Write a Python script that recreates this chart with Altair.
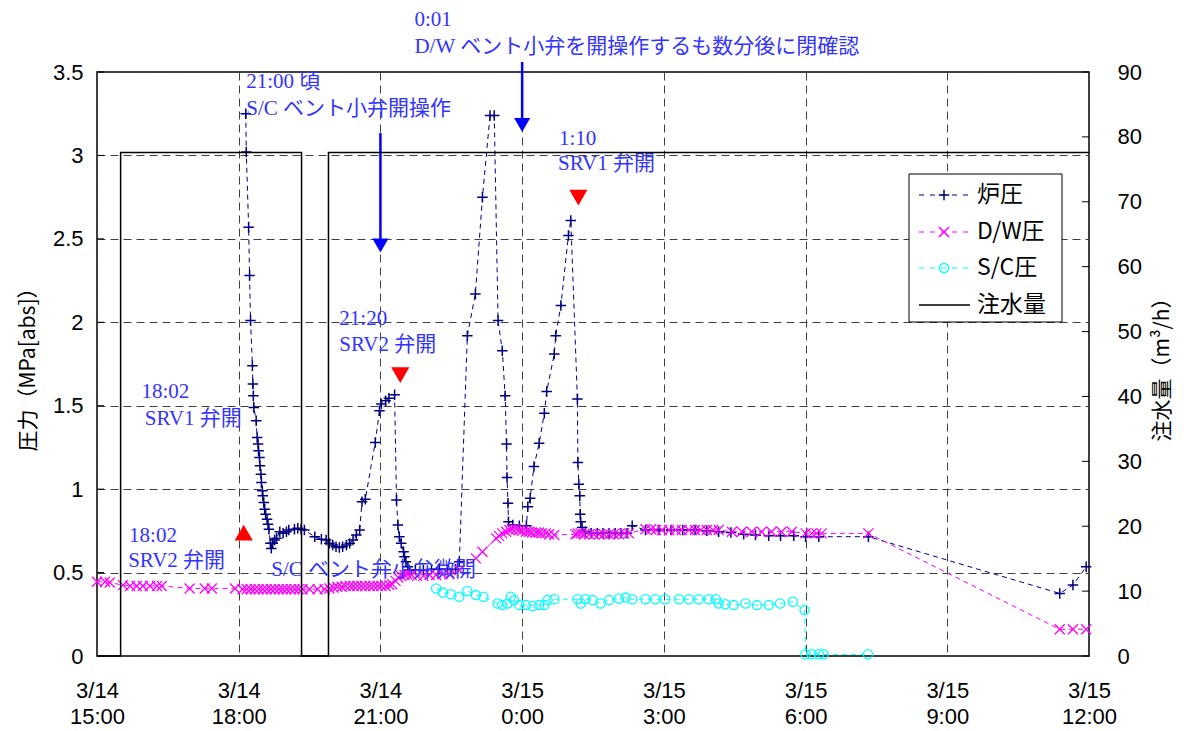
import json
import altair as alt
import pandas as pd

# ---------------- data (x = hours since 3/14 15:00) ----------------
x_tick_values = [0, 3, 6, 9, 12, 15, 18, 21]
x_tick_dates = ["3/14", "3/14", "3/14", "3/15", "3/15", "3/15", "3/15", "3/15"]
x_tick_times = ["15:00", "18:00", "21:00", "0:00", "3:00", "6:00", "9:00", "12:00"]
p_ticks = [0, 0.5, 1, 1.5, 2, 2.5, 3, 3.5]
inj_ticks = [0, 10, 20, 30, 40, 50, 60, 70, 80, 90]

rpv_h = [3.15, 3.16, 3.21, 3.23, 3.25, 3.29, 3.30, 3.31, 3.32, 3.37,
         3.39, 3.41, 3.42, 3.44, 3.45, 3.47, 3.48, 3.50, 3.51, 3.53,
         3.55, 3.57, 3.60, 3.62, 3.64, 3.67, 3.69, 3.72, 3.76, 3.80,
         3.87, 3.94, 4.01, 4.06, 4.18, 4.25, 4.32, 4.39, 4.61, 4.75,
         4.85, 4.92, 4.99, 5.06, 5.13, 5.20, 5.28, 5.35, 5.42, 5.49,
         5.56, 5.61, 5.68, 5.89, 5.98, 6.02, 6.11, 6.18, 6.30, 6.34,
         6.37, 6.40, 6.44, 6.49, 6.51, 6.54, 6.58, 6.61, 6.74, 6.91,
         7.08, 7.25, 7.42, 7.59, 7.67, 7.84, 8.01, 8.16, 8.32, 8.41,
         8.49, 8.58, 8.64, 8.67, 8.68, 8.70, 8.71, 8.80, 8.94, 9.09,
         9.12, 9.17, 9.25, 9.36, 9.47, 9.52, 9.68, 9.71, 9.82, 9.98,
         10.03, 10.17, 10.18, 10.20, 10.22, 10.23, 10.24, 10.27, 10.34, 10.46,
         10.59, 10.71, 10.84, 10.97, 11.09, 11.22, 11.33, 11.61, 11.90, 12.15,
         12.40, 12.66, 12.91, 13.16, 13.42, 13.69, 13.94, 14.22, 14.47, 14.75,
         15.00, 15.28, 16.33, 20.38, 20.66, 20.94]
rpv_p = [3.25, 3.02, 2.57, 2.28, 2.01, 1.74, 1.63, 1.56, 1.49, 1.41,
         1.31, 1.27, 1.23, 1.19, 1.14, 1.09, 1.04, 0.99, 0.96, 0.92,
         0.88, 0.85, 0.82, 0.79, 0.76, 0.675, 0.645, 0.675, 0.695, 0.705,
         0.745, 0.735, 0.745, 0.755, 0.76, 0.765, 0.76, 0.755, 0.715, 0.70,
         0.695, 0.675, 0.665, 0.655, 0.65, 0.655, 0.665, 0.675, 0.695, 0.725,
         0.755, 0.925, 0.94, 1.28, 1.47, 1.51, 1.53, 1.545, 1.565, 0.935,
         0.785, 0.715, 0.675, 0.625, 0.595, 0.565, 0.535, 0.515, 0.515, 0.515,
         0.52, 0.52, 0.52, 0.52, 0.565, 1.92, 2.17, 2.75, 3.24, 3.24,
         2.01, 1.83, 1.56, 1.27, 1.07, 0.915, 0.805, 0.785, 0.78, 0.78,
         0.895, 0.945, 1.135, 1.275, 1.455, 1.585, 1.81, 1.92, 2.10, 2.52,
         2.61, 1.54, 1.16, 1.03, 0.96, 0.85, 0.805, 0.77, 0.745, 0.735,
         0.735, 0.735, 0.735, 0.735, 0.735, 0.735, 0.78, 0.755, 0.755, 0.755,
         0.755, 0.755, 0.75, 0.745, 0.74, 0.73, 0.725, 0.72, 0.72, 0.72,
         0.715, 0.715, 0.715, 0.375, 0.425, 0.535]

dw_h = [0.00, 0.17, 0.27, 0.55, 0.70, 0.84, 0.97, 1.12, 1.27, 1.37,
        1.96, 2.28, 2.43, 2.92, 3.08, 3.17, 3.25, 3.34, 3.42, 3.51,
        3.59, 3.68, 3.76, 3.85, 3.93, 4.01, 4.10, 4.18, 4.27, 4.35,
        4.50, 4.67, 4.82, 4.92, 5.01, 5.09, 5.18, 5.26, 5.35, 5.43,
        5.51, 5.60, 5.68, 5.77, 5.85, 5.94, 6.02, 6.11, 6.19, 6.25,
        6.32, 6.38, 6.44, 6.51, 6.57, 6.66, 6.78, 6.91, 7.04, 7.18,
        7.31, 7.46, 7.67, 8.02, 8.16, 8.45, 8.51, 8.58, 8.66, 8.73,
        8.79, 8.87, 8.94, 9.00, 9.08, 9.15, 9.21, 9.29, 9.36, 9.42,
        9.50, 9.57, 9.68, 10.13, 10.18, 10.24, 10.31, 10.42, 10.52, 10.63,
        10.73, 10.84, 10.94, 11.05, 11.16, 11.26, 11.61, 11.73, 11.83, 11.96,
        12.11, 12.25, 12.38, 12.53, 12.66, 12.78, 12.91, 13.04, 13.16, 13.44,
        13.65, 13.86, 14.07, 14.28, 14.49, 14.71, 15.00, 15.13, 15.23, 15.34,
        16.33, 20.38, 20.66, 20.94]
dw_p = [0.445, 0.445, 0.44, 0.425, 0.42, 0.42, 0.42, 0.42, 0.42, 0.42,
        0.405, 0.405, 0.405, 0.405, 0.40, 0.40, 0.40, 0.40, 0.40, 0.40,
        0.40, 0.40, 0.40, 0.40, 0.40, 0.40, 0.40, 0.40, 0.40, 0.40,
        0.40, 0.40, 0.40, 0.405, 0.41, 0.415, 0.415, 0.42, 0.42, 0.42,
        0.42, 0.42, 0.42, 0.42, 0.42, 0.42, 0.42, 0.42, 0.425, 0.43,
        0.45, 0.47, 0.48, 0.485, 0.49, 0.485, 0.48, 0.48, 0.485, 0.485,
        0.49, 0.49, 0.515, 0.585, 0.625, 0.705, 0.72, 0.735, 0.745, 0.755,
        0.76, 0.76, 0.755, 0.75, 0.745, 0.745, 0.74, 0.74, 0.74, 0.735,
        0.735, 0.73, 0.725, 0.73, 0.735, 0.735, 0.73, 0.73, 0.73, 0.73,
        0.73, 0.73, 0.73, 0.73, 0.735, 0.735, 0.76, 0.76, 0.755, 0.755,
        0.755, 0.755, 0.755, 0.755, 0.755, 0.755, 0.755, 0.755, 0.755, 0.745,
        0.745, 0.745, 0.745, 0.745, 0.745, 0.745, 0.735, 0.735, 0.735, 0.735,
        0.735, 0.16, 0.16, 0.16]

sc_h = [7.18, 7.32, 7.49, 7.67, 7.84, 8.02, 8.18, 8.48, 8.58, 8.69,
        8.76, 8.83, 8.94, 9.08, 9.22, 9.36, 9.47, 9.54, 9.68, 10.17,
        10.24, 10.34, 10.49, 10.66, 10.84, 11.05, 11.19, 11.33, 11.61, 11.82,
        12.03, 12.32, 12.53, 12.74, 12.95, 13.10, 13.16, 13.30, 13.48, 13.73,
        13.97, 14.22, 14.46, 14.73, 14.98, 15.00, 15.13, 15.28, 15.38, 16.32]
sc_p = [0.405, 0.38, 0.37, 0.355, 0.39, 0.365, 0.355, 0.315, 0.305, 0.315,
        0.355, 0.335, 0.305, 0.305, 0.30, 0.305, 0.305, 0.335, 0.34, 0.34,
        0.315, 0.34, 0.335, 0.315, 0.335, 0.345, 0.35, 0.34, 0.34, 0.34,
        0.34, 0.34, 0.34, 0.34, 0.34, 0.34, 0.315, 0.31, 0.305, 0.315,
        0.305, 0.305, 0.315, 0.325, 0.275, 0.01, 0.01, 0.01, 0.01, 0.01]

inj_h = [0, 0.5, 0.5, 4.33, 4.33, 4.9, 4.9, 21]
inj_v = [0, 0, 77.6, 77.6, 0, 0, 77.6, 77.6]

ann_h = [3.16, 3.16, 6.72, 6.72, 9.78, 9.76, 5.13, 5.13, 0.94, 1.01, 0.68, 0.66, 3.69]
ann_p = [3.404, 3.242, 3.775, 3.614, 3.062, 2.913, 1.984, 1.828, 1.546, 1.384, 0.683, 0.533, 0.479]
ann_text = ["21:00 頃", "S/C ベント小弁開操作", "0:01",
            "D/W ベント小弁を開操作するも数分後に閉確認", "1:10", "SRV1 弁開",
            "21:20", "SRV2 弁開", "18:02", "SRV1 弁開", "18:02", "SRV2 弁開",
            "S/C ベント弁小弁微開"]

arrow_h = [6.0, 9.0]
arrow_from = [3.134, 3.56]
arrow_head = [2.46, 3.182]

red_h = [3.106, 6.42, 10.19]
red_p = [0.739, 1.684, 2.747]
red_shape = ["triangle-up", "triangle-down", "triangle-down"]

leg_labels = ["炉圧", "D/W圧", "S/C圧", "注水量"]
leg_colors = ["#000080", "#ff00ff", "#00ffff", "#000000"]

# ---------------- styling ----------------
W, H = 992, 584
PLUS = "M-1,0L1,0M0,-1L0,1"
XSH = "M-1,-1L1,1M-1,1L1,-1"
SANS = "Liberation Sans"
CJK = "Noto Sans CJK JP"
SERIF = "Liberation Serif, Noto Sans CJK JP"
ANN_COLOR = "#3333ff"
GRID = "#404040"

ticks_js = json.dumps(x_tick_values)
label_expr = (f"[{json.dumps(x_tick_dates)}[indexof({ticks_js}, datum.value)], "
              f"{json.dumps(x_tick_times)}[indexof({ticks_js}, datum.value)]]")

x_axis = alt.Axis(values=x_tick_values, labelExpr=label_expr, title=None,
                  grid=True, gridDash=[8, 5], gridColor=GRID, gridOpacity=1,
                  ticks=False, domain=False, labelFont=SANS, labelFontSize=22,
                  labelColor="black", labelPadding=24, labelLineHeight=26,
                  labelFlush=False, labelBaseline="top", labelOverlap=False)
x_enc = alt.X("h:Q", scale=alt.Scale(domain=[0, 21], nice=False, zero=False), axis=x_axis)

y_axis = alt.Axis(values=p_ticks, format="~g", title="圧力（MPa[abs]）",
                  grid=True, gridDash=[8, 5], gridColor=GRID, gridOpacity=1,
                  ticks=False, domain=False, labelFont=SANS, labelFontSize=22,
                  labelColor="black", labelPadding=14, titleFont=CJK,
                  titleFontSize=21, titleFontWeight="normal", titleColor="black",
                  titlePadding=14, orient="left")
y_enc = alt.Y("p:Q", scale=alt.Scale(domain=[0, 3.5], nice=False), axis=y_axis)

yr_axis = alt.Axis(values=inj_ticks, title="注水量（m³/h）", orient="right",
                   grid=False, ticks=False, domain=False, labelFont=SANS,
                   labelFontSize=22, labelColor="black", labelPadding=28,
                   titleFont=CJK, titleFontSize=21, titleFontWeight="normal",
                   titleColor="black", titlePadding=31, titleAngle=270)
yr_enc = alt.Y("v:Q", scale=alt.Scale(domain=[0, 90], nice=False), axis=yr_axis)

rpv_df = pd.DataFrame({"h": rpv_h, "p": rpv_p})
dw_df = pd.DataFrame({"h": dw_h, "p": dw_p})
sc_df = pd.DataFrame({"h": sc_h, "p": sc_p})
inj_df = pd.DataFrame({"h": inj_h, "v": inj_v, "i": list(range(len(inj_h)))})
ann_df = pd.DataFrame({"h": ann_h, "p": ann_p, "t": ann_text})
arr_df = pd.DataFrame({"h": arrow_h, "p": arrow_head, "p2": arrow_from})
red_df = pd.DataFrame({"h": red_h, "p": red_p, "s": red_shape})
pt_df = pd.DataFrame({"p": p_ticks})
it_df = pd.DataFrame({"v": inj_ticks})
one = pd.DataFrame({"k": [0]})


def series(df, color, shape, size, sw):
    line = alt.Chart(df).mark_line(color=color, strokeWidth=1, strokeDash=[5, 4]).encode(x=x_enc, y=y_enc)
    pts = alt.Chart(df).mark_point(shape=shape, size=size, color=color, filled=False,
                                   strokeWidth=sw, opacity=1).encode(x=x_enc, y=y_enc)
    return [line, pts]


left_layers = []
left_layers += [alt.Chart(pt_df).mark_rule(color="black", strokeWidth=1).encode(
    x=alt.value(0), x2=alt.value(7), y=y_enc)]
left_layers += series(rpv_df, "#000080", PLUS, 110, 1.5)
left_layers += series(dw_df, "#ff00ff", XSH, 100, 1.3)
left_layers += series(sc_df, "#00ffff", "circle", 85, 1.3)

left_layers.append(alt.Chart(red_df).mark_point(filled=True, color="red", size=330, opacity=1).encode(
    x=x_enc, y=y_enc, shape=alt.Shape("s:N", scale=None)))
left_layers.append(alt.Chart(arr_df).mark_rule(color="blue", strokeWidth=2.5).encode(
    x=x_enc, y=y_enc, y2="p2:Q"))
left_layers.append(alt.Chart(arr_df).mark_point(shape="triangle-down", filled=True, color="blue",
                                                size=260, opacity=1).encode(x=x_enc, y=y_enc))
left_layers.append(alt.Chart(ann_df).mark_text(align="left", baseline="alphabetic", font=SERIF,
                                               fontSize=21, color=ANN_COLOR).encode(
    x=x_enc, y=y_enc, text="t:N"))

# legend box
LX0, LX1, LY0, LY1 = 812, 965, 102, 250
ROWS = [123, 160, 196, 233]
left_layers.append(alt.Chart(one).mark_rect(fill="white", stroke="black", strokeWidth=1).encode(
    x=alt.value(LX0), x2=alt.value(LX1), y=alt.value(LY0), y2=alt.value(LY1)))
leg_shapes = [PLUS, XSH, "circle", None]
leg_sizes = [110, 100, 85, 0]
for lab, col, shp, sz, ry in zip(leg_labels, leg_colors, leg_shapes, leg_sizes, ROWS):
    if shp is None:
        left_layers.append(alt.Chart(one).mark_rule(color=col, strokeWidth=1.5).encode(
            x=alt.value(822), x2=alt.value(873), y=alt.value(ry)))
    else:
        left_layers.append(alt.Chart(one).mark_rule(color=col, strokeWidth=1, strokeDash=[5, 6]).encode(
            x=alt.value(822), x2=alt.value(873), y=alt.value(ry)))
        left_layers.append(alt.Chart(one).mark_point(shape=shp, size=sz, color=col, filled=False,
                                                     strokeWidth=1.5, opacity=1).encode(
            x=alt.value(847), y=alt.value(ry)))
    left_layers.append(alt.Chart(one).mark_text(text=lab, align="left", baseline="middle", font=CJK,
                                                fontSize=23, color="black").encode(
        x=alt.value(880), y=alt.value(ry)))

left = alt.layer(*left_layers)

right = alt.layer(
    alt.Chart(inj_df).mark_line(color="black", strokeWidth=1.5).encode(
        x=x_enc, y=yr_enc, order=alt.Order("i:Q")),
    alt.Chart(it_df).mark_rule(color="black", strokeWidth=1).encode(
        x=alt.value(W - 7), x2=alt.value(W), y=yr_enc),
)

chart = alt.layer(left, right).resolve_scale(y="independent").properties(
    width=W, height=H,
    autosize=alt.AutoSizeParams(type="none"),
    padding={"left": 89, "top": 64, "right": 86, "bottom": 72},
    background="white",
).configure_view(stroke="black", strokeWidth=1.5)

chart.save("out.html", embed_options={"renderer": "svg", "actions": False})
